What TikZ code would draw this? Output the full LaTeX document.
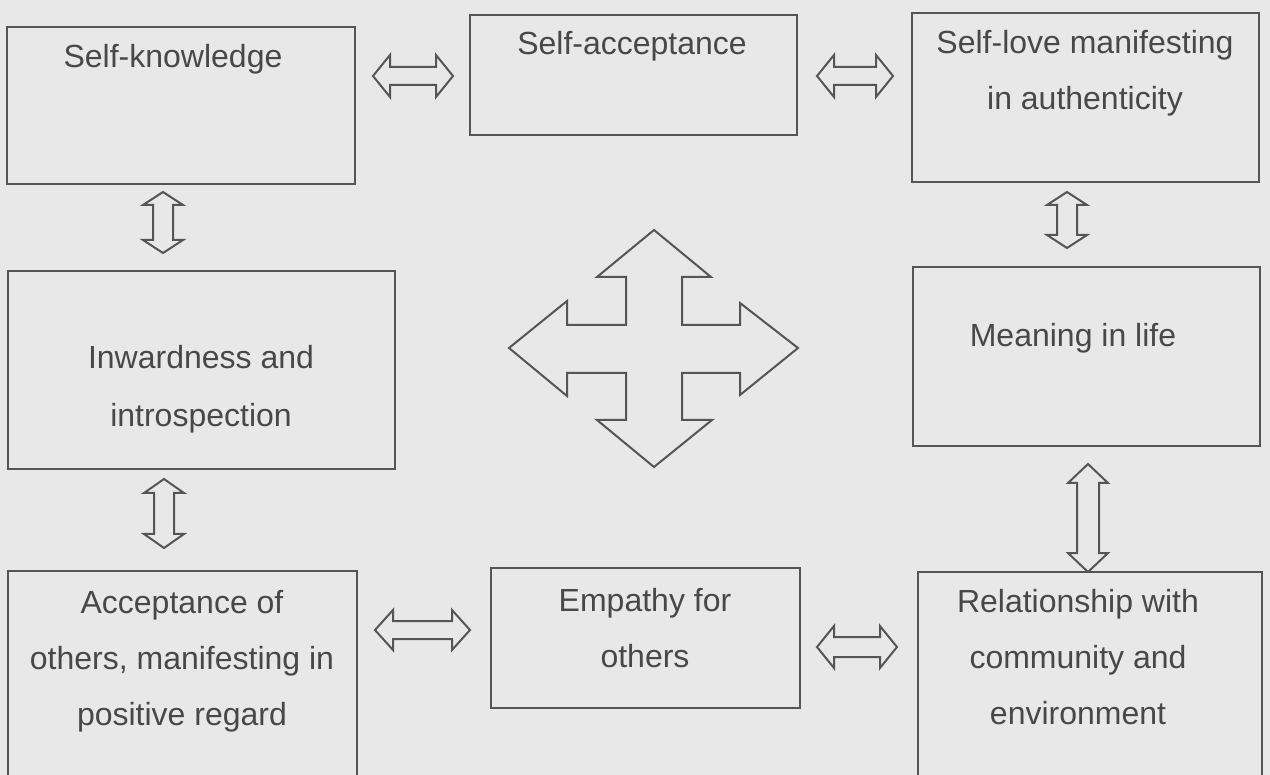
\documentclass[tikz,border=0pt]{standalone}
\usepackage{fontspec}
\setmainfont{Liberation Sans}
\definecolor{bgc}{RGB}{232,232,232}
\definecolor{linec}{RGB}{85,85,85}
\definecolor{txtc}{RGB}{72,72,72}
\newcommand\dblh[6]{\draw[arr] (#1,#3) -- (#1+#6,#3-#4) -- (#1+#6,#3-#5) -- (#2-#6,#3-#5) -- (#2-#6,#3-#4) -- (#2,#3) -- (#2-#6,#3+#4) -- (#2-#6,#3+#5) -- (#1+#6,#3+#5) -- (#1+#6,#3+#4) -- cycle;}
\newcommand\dblv[6]{\draw[arr] (#1,#2) -- (#1+#4,#2+#6) -- (#1+#5,#2+#6) -- (#1+#5,#3-#6) -- (#1+#4,#3-#6) -- (#1,#3) -- (#1-#4,#3-#6) -- (#1-#5,#3-#6) -- (#1-#5,#2+#6) -- (#1-#4,#2+#6) -- cycle;}
\begin{document}
\begin{tikzpicture}[x=1pt,y=-1pt,
  box/.style={draw=linec, line width=2pt, inner sep=0pt, outer sep=0pt},
  txt/.style={text=txtc, font=\fontsize{32}{56}\selectfont, align=center, anchor=base, inner sep=0pt},
  arr/.style={draw=linec, line width=2pt, line join=miter}]
\useasboundingbox (0,0) rectangle (1270,775);
\fill[bgc] (0,0) rectangle (1270,775);
\begin{scope}
\clip (0,0) rectangle (1270,775);
\node[box, minimum width=348pt, minimum height=157pt] (b1) at (181,105.5) {};
\node[box, minimum width=327pt, minimum height=120pt] (b2) at (633.5,75) {};
\node[box, minimum width=347pt, minimum height=169pt] (b3) at (1085.5,97.5) {};
\node[box, minimum width=387pt, minimum height=198pt] (b4) at (201.5,370) {};
\node[box, minimum width=347pt, minimum height=179pt] (b5) at (1086.5,356.5) {};
\node[box, minimum width=349pt, minimum height=219pt] (b6) at (182.5,680.5) {};
\node[box, minimum width=309pt, minimum height=140pt] (b7) at (645.5,638) {};
\node[box, minimum width=344pt, minimum height=218pt] (b8) at (1090,681) {};
\end{scope}
% anchor=base of a multi-line node lies on its last line
\node[txt] (t1) at (173,68) {Self-knowledge};
\node[txt] (t2) at (632,55) {Self-acceptance};
\node[txt] (t3) at (1085,110) {Self-love manifesting\\in authenticity};
\node[txt, font=\fontsize{32}{58}\selectfont] (t4) at (201,427) {Inwardness and\\introspection};
\node[txt] (t5) at (1073,347) {Meaning in life};
\node[txt] (t6) at (182,725) {Acceptance of\\others, manifesting in\\positive regard};
\node[txt] (t7) at (645,667) {Empathy for\\others};
\node[txt] (t8) at (1078,724) {Relationship with\\community and\\environment};
% horizontal double arrows
\dblh{373}{453}{76}{21}{9}{17}
\dblh{817}{893}{76}{21}{9}{17}
\dblh{375}{470}{630}{20}{9}{18}
\dblh{817}{897}{647}{21}{10}{17}
% vertical double arrows
\dblv{163}{192}{253}{20}{10}{13}
\dblv{164}{479}{548}{20}{10}{14}
\dblv{1067}{192}{248}{20}{10}{13}
\dblv{1088}{464}{572}{20}{11}{19}
% central four-way arrow
\draw[arr] (654,230) -- (711,277) -- (682,277) -- (682,325) -- (740,325) -- (740,303) -- (798,348) -- (740,395) -- (740,373) -- (682,373) -- (682,420) -- (712,420) -- (654,467) -- (597,420) -- (626,420) -- (626,373) -- (567,373) -- (567,396) -- (509,348) -- (567,301) -- (567,325) -- (626,325) -- (626,277) -- (597,277) -- cycle;
\end{tikzpicture}
\end{document}
